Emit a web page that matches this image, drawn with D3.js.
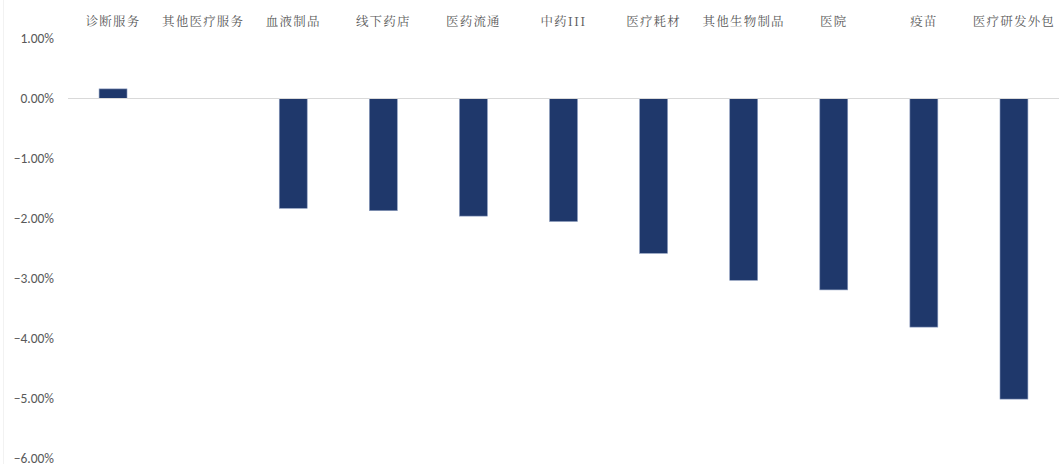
<!DOCTYPE html>
<html>
<head>
<meta charset="utf-8">
<script src="https://cdn.jsdelivr.net/npm/d3@7"></script>
<style>
  html, body { margin: 0; padding: 0; background: #fff; }
  svg { display: block; }
</style>
</head>
<body>
<svg id="chart" width="1059" height="464"></svg>
<script>
const categories = ["诊断服务", "其他医疗服务", "血液制品", "线下药店", "医药流通", "中药III", "医疗耗材", "其他生物制品", "医院", "疫苗", "医疗研发外包"];
const values = [0.0016, 0.0, -0.0183, -0.0187, -0.0196, -0.0205, -0.0258, -0.0303, -0.0319, -0.0381, -0.0501];
const yTicks = [0.01, 0.0, -0.01, -0.02, -0.03, -0.04, -0.05, -0.06];

const W = 1059, H = 464;
const svg = d3.select("#chart");

const x = d3.scaleBand().domain(categories).range([68, 1059]).paddingInner(0.69).paddingOuter(0.345);
const y = d3.scaleLinear().domain([-0.06, 0.01]).range([458.5, 38.5]);

// faint left border
svg.append("line").attr("x1", 3.5).attr("x2", 3.5).attr("y1", 0).attr("y2", H)
  .attr("stroke", "#f2f2f2").attr("stroke-width", 1);

// y axis labels
const yAxis = d3.axisLeft(y).tickValues(yTicks).tickFormat(d3.format(".2%")).tickSize(0).tickPadding(0);
const ga = svg.append("g").attr("transform", "translate(54,0)").call(yAxis);
ga.select(".domain").remove();
ga.selectAll("text")
  .attr("fill", "#595959")
  .style("font-family", "Carlito, 'Liberation Sans', 'DejaVu Sans', sans-serif")
  .style("font-size", "13.5px");

// bars
svg.append("g").selectAll("rect").data(values).join("rect")
  .attr("x", (d, i) => x(categories[i]))
  .attr("width", x.bandwidth())
  .attr("y", d => y(Math.max(0, d)))
  .attr("height", d => Math.abs(y(d) - y(0)))
  .attr("fill", "#1f386b")
  .attr("stroke", "#8a9bbd")
  .attr("stroke-width", 0.6);

// zero line
svg.append("line")
  .attr("x1", 68).attr("x2", 1059)
  .attr("y1", y(0)).attr("y2", y(0))
  .attr("stroke", "#d9d9d9").attr("stroke-width", 1.2);

// category labels on top
const xAxis = d3.axisTop(x).tickSize(0).tickPadding(0);
const gx = svg.append("g").attr("transform", "translate(0,26)").call(xAxis);
gx.select(".domain").remove();
gx.selectAll("text")
  .attr("fill", "#595959")
  .style("font-family", "'Noto Serif CJK SC', 'Noto Sans CJK SC', serif")
  .style("font-size", "12.5px")
  .style("letter-spacing", "1.2px");
</script>
</body>
</html>
